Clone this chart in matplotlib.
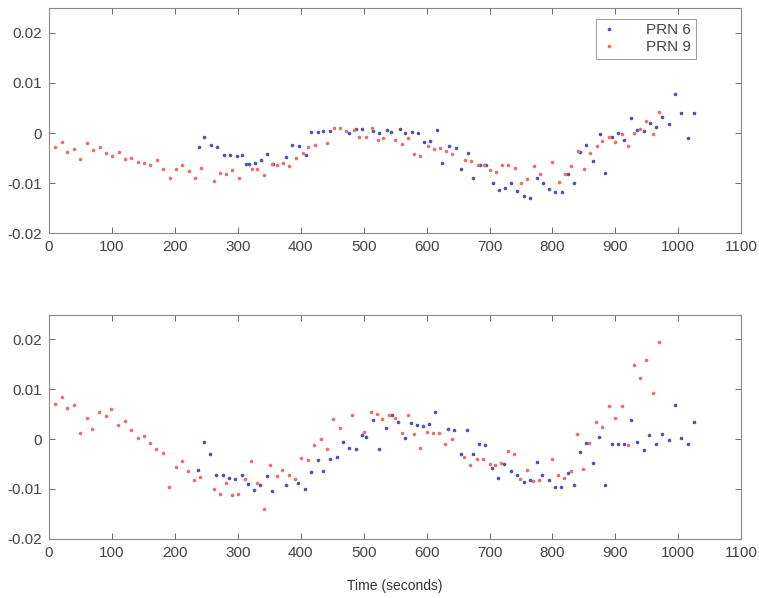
import matplotlib
matplotlib.use("Agg")
from matplotlib import pyplot as plt

plt.rcParams['font.family'] = ['Liberation Sans', 'DejaVu Sans']

# top panel, PRN 6 (blue)
t6_top = [238, 247, 258, 267, 278, 288, 298, 307, 313, 318, 328, 337, 347, 356, 376, 386,
          397, 408, 417, 428, 436, 447, 477, 488, 498, 515, 525, 537, 544, 557, 566, 577,
          587, 596, 605, 616, 625, 635, 646, 655, 665, 674, 685, 694, 705, 715, 724, 734,
          744, 754, 765, 775, 785, 795, 804, 815, 824, 835, 844, 854, 864, 875, 884, 894,
          904, 914, 925, 935, 945, 955, 965, 974, 985, 995, 1005, 1015, 1025]
v6_top = [-0.0027, -0.0008, -0.0023, -0.0027, -0.0043, -0.0043, -0.0046, -0.0043, -0.0062,
          -0.0062, -0.0059, -0.0053, -0.0041, -0.0062, -0.0048, -0.0023, -0.0026, -0.0043,
          0.0002, 0.0002, 0.0004, 0.0004, 0.0001, 0.0009, 0.0009, 0.0005, 0.0, 0.0007, 0.0002,
          0.0009, 0.0, 0.0002, 0.0, -0.0018, -0.0015, 0.0007, -0.0059, -0.0026, -0.0030,
          -0.0071, -0.0039, -0.0089, -0.0063, -0.0063, -0.0099, -0.0114, -0.0109, -0.0099,
          -0.0115, -0.0125, -0.0129, -0.0089, -0.0100, -0.0112, -0.0117, -0.0117, -0.0081,
          -0.0099, -0.0037, -0.0023, -0.0055, -0.0001, -0.0079, -0.0008, 0.0001, -0.0013,
          0.0030, 0.0007, 0.0005, 0.0021, 0.0012, 0.0031, 0.0019, 0.0077, 0.0039, -0.0010,
          0.0040]

# top panel, PRN 9 (red)
t9_top = [10, 20, 29, 40, 50, 61, 70, 81, 90, 100, 111, 120, 131, 142, 151, 161, 171, 181,
          192, 202, 212, 222, 232, 241, 262, 271, 282, 291, 302, 322, 331, 342, 354, 362,
          372, 381, 393, 403, 412, 422, 442, 453, 463, 472, 484, 493, 503, 514, 522, 530,
          550, 561, 570, 580, 590, 602, 611, 621, 631, 641, 661, 671, 681, 691, 701, 711,
          720, 730, 740, 750, 760, 770, 780, 800, 810, 820, 829, 840, 850, 859, 870, 879,
          890, 899, 910, 920, 930, 939, 949, 959, 969]
v9_top = [-0.0028, -0.0018, -0.0037, -0.0031, -0.0052, -0.0019, -0.0033, -0.0027, -0.0039,
          -0.0046, -0.0037, -0.0052, -0.0050, -0.0057, -0.0059, -0.0063, -0.0054, -0.0071,
          -0.0090, -0.0071, -0.0063, -0.0075, -0.0089, -0.0069, -0.0095, -0.0080, -0.0082,
          -0.0074, -0.0090, -0.0071, -0.0071, -0.0083, -0.0062, -0.0063, -0.0059, -0.0065,
          -0.0049, -0.0039, -0.0027, -0.0023, -0.0020, 0.0010, 0.0010, 0.0005, 0.0007,
          -0.0008, -0.0007, 0.0011, -0.0013, -0.0009, -0.0013, -0.0021, -0.0009, -0.0041,
          -0.0045, -0.0026, -0.0031, -0.0029, -0.0036, -0.0042, -0.0053, -0.0056, -0.0063,
          -0.0063, -0.0073, -0.0078, -0.0063, -0.0063, -0.0070, -0.0099, -0.0091, -0.0065,
          -0.0081, -0.0058, -0.0098, -0.0081, -0.0066, -0.0035, -0.0071, -0.0040, -0.0026,
          -0.0016, -0.0008, -0.0017, -0.0001, -0.0025, 0.0001, 0.0009, 0.0024, -0.0001, 0.0041]

# bottom panel, PRN 6 (blue)
t6_bot = [237, 246, 256, 266, 277, 286, 296, 306, 316, 326, 336, 346, 355, 376, 396, 406,
          417, 427, 436, 446, 457, 467, 477, 488, 498, 503, 515, 524, 535, 545, 554, 565,
          575, 585, 595, 604, 614, 634, 644, 654, 664, 674, 684, 693, 704, 714, 723, 734,
          744, 754, 765, 775, 784, 794, 804, 814, 824, 835, 844, 854, 864, 874, 884, 894,
          904, 914, 925, 934, 945, 954, 965, 974, 985, 995, 1005, 1015, 1025]
v6_bot = [-0.0062, -0.0005, -0.0029, -0.0071, -0.0071, -0.0077, -0.0080, -0.0071, -0.0091,
          -0.0102, -0.0093, -0.0073, -0.0105, -0.0092, -0.0089, -0.0100, -0.0065, -0.0041,
          -0.0063, -0.0040, -0.0035, -0.0005, -0.0017, -0.0019, 0.0008, 0.0005, 0.0038,
          -0.0020, 0.0023, 0.0048, 0.0035, 0.0003, 0.0032, 0.0028, 0.0027, 0.0030, 0.0055,
          0.0020, 0.0018, -0.0030, 0.0019, -0.0030, -0.0010, -0.0011, -0.0058, -0.0077,
          -0.0049, -0.0064, -0.0072, -0.0087, -0.0082, -0.0045, -0.0072, -0.0083, -0.0097,
          -0.0096, -0.0068, -0.0093, -0.0025, -0.0007, -0.0047, 0.0005, -0.0093, -0.0010,
          -0.0009, -0.0009, 0.0038, -0.0005, -0.0022, 0.0008, -0.0009, 0.0011, -0.0002,
          0.0069, 0.0003, -0.0010, 0.0035]

# bottom panel, PRN 9 (red)
t9_bot = [10, 20, 29, 40, 50, 60, 69, 80, 90, 99, 110, 120, 131, 142, 151, 161, 170, 181,
          191, 201, 211, 221, 231, 240, 262, 271, 281, 290, 301, 311, 321, 331, 341, 351,
          362, 370, 381, 391, 401, 412, 421, 432, 442, 452, 462, 482, 501, 512, 521, 529,
          541, 549, 561, 570, 580, 590, 600, 610, 620, 630, 641, 659, 669, 680, 690, 700,
          709, 719, 729, 739, 749, 759, 769, 779, 799, 809, 818, 829, 839, 849, 858, 869,
          879, 890, 899, 910, 920, 929, 939, 949, 960, 969]
v9_bot = [0.0071, 0.0085, 0.0063, 0.0069, 0.0013, 0.0043, 0.0020, 0.0055, 0.0047, 0.0061,
          0.0029, 0.0036, 0.0019, 0.0002, 0.0007, -0.0007, -0.0020, -0.0027, -0.0097,
          -0.0055, -0.0043, -0.0063, -0.0082, -0.0075, -0.0100, -0.0111, -0.0089, -0.0113,
          -0.0111, -0.0080, -0.0043, -0.0088, -0.0141, -0.0052, -0.0073, -0.0062, -0.0071,
          -0.0080, -0.0038, -0.0041, -0.0011, 0.0, -0.0019, 0.0041, 0.0022, 0.0049, 0.0015,
          0.0055, 0.0051, 0.0040, 0.0049, 0.0043, 0.0013, 0.0048, 0.0011, -0.0018, 0.0015,
          0.0012, 0.0013, -0.0009, 0.0, -0.0035, -0.0051, -0.0039, -0.0040, -0.0049, -0.0051,
          -0.0048, -0.0023, -0.0029, -0.0081, -0.0062, -0.0085, -0.0083, -0.0040, -0.0071,
          -0.0079, -0.0063, 0.0010, -0.0060, -0.0007, 0.0035, 0.0025, 0.0067, 0.0043, 0.0067,
          -0.0011, 0.0149, 0.0123, 0.0159, 0.0092, 0.0195]

xticks = [0, 100, 200, 300, 400, 500, 600, 700, 800, 900, 1000, 1100]
yticks = [-0.02, -0.01, 0, 0.01, 0.02]
ytick_labels = ['-0.02', '-0.01', '0', '0.01', '0.02']
series_names = ['PRN 6', 'PRN 9']

blue = '#5252b0'
red = '#ea7070'
grey = '#555555'

fig = plt.figure(figsize=(7.59, 5.98), dpi=100)
ax1 = fig.add_axes([0.0646, 0.610, 0.912, 0.377])
ax2 = fig.add_axes([0.0646, 0.099, 0.912, 0.375])

panels = [(ax1, t6_top, v6_top, t9_top, v9_top), (ax2, t6_bot, v6_bot, t9_bot, v9_bot)]
for ax, ta, va, tb, vb in panels:
    ax.plot(ta, va, '.', color=blue, markersize=3.2, label=series_names[0])
    ax.plot(tb, vb, '.', color=red, markersize=3.2, label=series_names[1])
    ax.set_xlim(0, 1100)
    ax.set_ylim(-0.02, 0.025)
    ax.set_xticks(xticks)
    ax.set_xticklabels([str(x) for x in xticks])
    ax.set_yticks(yticks)
    ax.set_yticklabels(ytick_labels)
    ax.tick_params(direction='in', length=4, width=0.6, top=True, right=True,
                   labelsize=11, colors=grey, labelcolor='#444444', pad=5)
    for s in ax.spines.values():
        s.set_color('#888888')
        s.set_linewidth(0.8)

leg = ax1.legend(loc='upper right', bbox_to_anchor=(0.945, 0.985), fontsize=11,
                 frameon=True, fancybox=False, handlelength=1.2, borderpad=0.3,
                 labelspacing=0.2, handletextpad=1.8, markerscale=1.0)
leg.get_frame().set_edgecolor('#888888')
leg.get_frame().set_linewidth(0.8)
for txt in leg.get_texts():
    txt.set_color('#444444')

ax2.set_xlabel('Time (seconds)', fontsize=10, color='#333333', labelpad=14)

fig.savefig('out.png', dpi=100)
